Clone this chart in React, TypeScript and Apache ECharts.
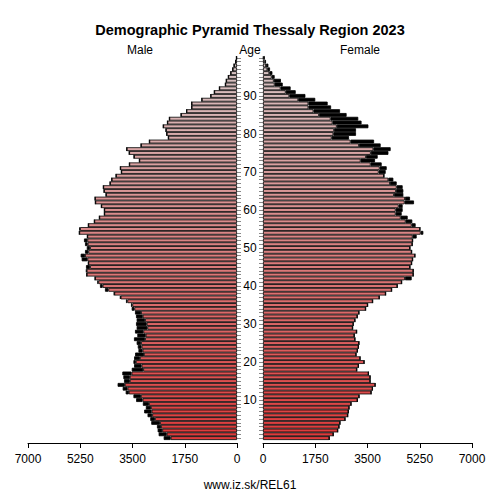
import { useEffect, useRef } from "react";
import * as echarts from "echarts";

// ages 0..100
const ages: string[] = Array.from({ length: 101 }, (_, i) => String(i));

const male: number[] = [
  2455, 2624, 2657, 2680, 2871, 2905, 2996, 3108, 3052, 3153,
  3378, 3468, 3727, 3828, 3998, 3783, 3806, 3840, 3524, 3446,
  3468, 3446, 3412, 3300, 3322, 3360, 3450, 3338, 3416, 3360,
  3382, 3360, 3382, 3416, 3527, 3550, 3717, 3918, 4119, 4421,
  4588, 4677, 4755, 5034, 5057, 5057, 4979, 5202, 5235, 5090,
  5030, 5090, 5124, 5012, 5281, 5281, 4979, 4778, 4610, 4443,
  4443, 4543, 4744, 4755, 4387, 4454, 4477, 4253, 4197, 4052,
  3873, 3907, 3605, 3270, 3450, 3610, 3695, 3215, 2935, 2300,
  2355, 2380, 2470, 2330, 2265, 1875, 1690, 1520, 1520, 1180,
  880, 760, 590, 390, 360, 290, 210, 145, 100, 50,
  20,
];

const female: number[] = [
  2221, 2355, 2503, 2547, 2580, 2749, 2839, 2861, 2884, 2951,
  3163, 3219, 3623, 3668, 3758, 3590, 3590, 3533, 3141, 3197,
  3388, 3253, 3118, 3163, 3197, 3215, 3081, 3059, 3137, 3003,
  3025, 3081, 3159, 3215, 3438, 3505, 3673, 3896, 4108, 4309,
  4499, 4644, 4979, 5034, 5034, 4923, 4979, 5012, 5090, 4979,
  4923, 5000, 5012, 5146, 5370, 5258, 5112, 5000, 4845, 4644,
  4677, 4677, 5057, 4923, 4700, 4700, 4677, 4477, 4365, 4052,
  4108, 4142, 3974, 3751, 3840, 4200, 4275, 3940, 3720, 2880,
  3115, 3115, 3530, 3300, 3190, 2800, 2580, 2280, 2165, 1750,
  1420, 1095, 925, 660, 600, 390, 315, 235, 180, 100,
  60,
];

const xTicks = [0, 1750, 3500, 5250, 7000];

const FONT = "Liberation Sans, Arial, sans-serif";

function ageColor(i: number) {
  const t = i / 100;
  const r = Math.round(222 + (215 - 222) * t);
  const g = Math.round(58 + (200 - 58) * t);
  const b = Math.round(58 + (200 - 58) * t);
  return `rgb(${r},${g},${b})`;
}

export default function App() {
  const chartRef = useRef<HTMLDivElement>(null);

  useEffect(() => {
    if (!chartRef.current) return;
    const chart = echarts.init(chartRef.current, null, { renderer: "svg" });

    const base = ages.map((_, i) => ({
      value: Math.min(male[i], female[i]),
      itemStyle: { color: ageColor(i) },
    }));
    const maleExcess = ages.map((_, i) => Math.max(male[i] - female[i], 0));
    const femaleExcess = ages.map((_, i) => Math.max(female[i] - male[i], 0));

    const barStyle = { borderColor: "#000", borderWidth: 0.8 };

    const xAxisCommon = {
      type: "value" as const,
      min: 0,
      max: 7000,
      interval: 1750,
      offset: 3,
      splitLine: { show: false },
      axisLine: { show: true, lineStyle: { color: "#000", width: 1 } },
      axisTick: { show: true, length: 5, lineStyle: { color: "#000" } },
      axisLabel: {
        color: "#000",
        fontSize: 12,
        fontFamily: FONT,
        margin: 10,
        customValues: xTicks,
        formatter: (v: number) => String(v),
      },
    };

    chart.setOption({
      animation: false,
      textStyle: { fontFamily: FONT },
      grid: [
        { left: 28, width: 209, top: 56, height: 384 },
        { left: 263, width: 209, top: 56, height: 384 },
      ],
      xAxis: [
        { ...xAxisCommon, gridIndex: 0, inverse: true },
        { ...xAxisCommon, gridIndex: 1 },
      ],
      yAxis: [
        {
          type: "category",
          gridIndex: 0,
          data: ages,
          position: "right",
          axisLine: { show: false },
          axisTick: {
            show: true,
            alignWithLabel: true,
            interval: 0,
            length: 4,
            lineStyle: { color: "#888" },
          },
          axisLabel: {
            show: true,
            interval: (index: number) => index % 10 === 0 && index > 0 && index < 100,
            align: "center",
            margin: 13,
            color: "#000",
            fontSize: 12,
            fontFamily: FONT,
          },
        },
        {
          type: "category",
          gridIndex: 1,
          data: ages,
          position: "left",
          axisLine: { show: false },
          axisTick: {
            show: true,
            alignWithLabel: true,
            interval: 0,
            length: 4,
            lineStyle: { color: "#888" },
          },
          axisLabel: { show: false },
        },
      ],
      graphic: [
        {
          type: "text",
          x: 250,
          y: 30,
          style: {
            text: "Demographic Pyramid Thessaly Region 2023",
            fontSize: 14.5,
            fontWeight: "bold",
            fontFamily: FONT,
            fill: "#000",
            align: "center",
            verticalAlign: "middle",
          },
        },
        {
          type: "text",
          x: 140,
          y: 50,
          style: { text: "Male", fontSize: 12, fontFamily: FONT, fill: "#000", align: "center", verticalAlign: "middle" },
        },
        {
          type: "text",
          x: 250,
          y: 50,
          style: { text: "Age", fontSize: 12, fontFamily: FONT, fill: "#000", align: "center", verticalAlign: "middle" },
        },
        {
          type: "text",
          x: 360,
          y: 50,
          style: { text: "Female", fontSize: 12, fontFamily: FONT, fill: "#000", align: "center", verticalAlign: "middle" },
        },
        {
          type: "text",
          x: 250,
          y: 485,
          style: { text: "www.iz.sk/REL61", fontSize: 12, fontFamily: FONT, fill: "#000", align: "center", verticalAlign: "middle" },
        },
      ],
      series: [
        {
          name: "Male",
          type: "bar",
          xAxisIndex: 0,
          yAxisIndex: 0,
          stack: "m",
          barCategoryGap: "0%",
          itemStyle: barStyle,
          data: base,
        },
        {
          name: "Male excess",
          type: "bar",
          xAxisIndex: 0,
          yAxisIndex: 0,
          stack: "m",
          barCategoryGap: "0%",
          itemStyle: { ...barStyle, color: "#000" },
          data: maleExcess,
        },
        {
          name: "Female",
          type: "bar",
          xAxisIndex: 1,
          yAxisIndex: 1,
          stack: "f",
          barCategoryGap: "0%",
          itemStyle: barStyle,
          data: base,
        },
        {
          name: "Female excess",
          type: "bar",
          xAxisIndex: 1,
          yAxisIndex: 1,
          stack: "f",
          barCategoryGap: "0%",
          itemStyle: { ...barStyle, color: "#000" },
          data: femaleExcess,
        },
      ],
    });

    return () => {
      chart.dispose();
    };
  }, []);

  return (
    <div
      ref={chartRef}
      style={{ position: "fixed", left: 0, top: 0, width: 500, height: 500, background: "#fff" }}
    />
  );
}
